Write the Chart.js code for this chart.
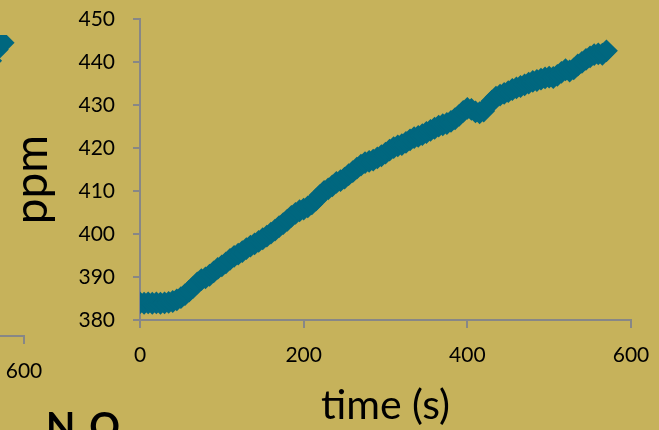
<!DOCTYPE html>
<html>
<head>
<meta charset="utf-8">
<script src="https://cdn.jsdelivr.net/npm/chart.js@4.4.1/dist/chart.umd.min.js"></script>
<style>
    html, body {margin: 0; padding: 0; background: #c6b25b; overflow: hidden;}
    #wrap {position: relative; width: 659px; height: 430px;}
    #side-chart {position: absolute; left: -476px; top: 16px;}
    #main-chart {position: absolute; left: 0; top: 0;}
    #next-title {position: absolute; left: 46px; top: 402px; font: bold 38px Lato, sans-serif; color: #000; white-space: nowrap;}
    #next-title sub {font-size: 24px; vertical-align: -14px;}
</style>
</head>
<body>
<div id="wrap">
    <canvas id="side-chart" width="540" height="430"></canvas>
    <canvas id="main-chart" width="659" height="430"></canvas>
    <div id="next-title">N<sub>2</sub>O</div>
</div>
<script>
// time (s) and concentration (ppm)
const times = [0, 5, 10, 15, 20, 25, 30, 35, 40, 45, 50, 55, 60, 65, 70, 75, 80, 85, 90, 95,
    100, 105, 110, 115, 120, 125, 130, 135, 140, 145, 150, 155, 160, 165, 170, 175, 180, 185, 190, 195,
    200, 205, 210, 215, 220, 225, 230, 235, 240, 245, 250, 255, 260, 265, 270, 275, 280, 285, 290, 295,
    300, 305, 310, 315, 320, 325, 330, 335, 340, 345, 350, 355, 360, 365, 370, 375, 380, 385, 390, 395,
    400, 405, 410, 415, 420, 425, 430, 435, 440, 445, 450, 455, 460, 465, 470, 475, 480, 485, 490, 495,
    500, 505, 510, 515, 520, 525, 530, 535, 540, 545, 550, 555, 560, 565, 570]
const ppm = [384.0, 383.9, 384.0, 383.9, 384.0, 383.9, 384.0, 384.1, 384.3, 384.7,
    385.2, 385.9, 386.7, 387.6, 388.6, 389.4, 389.8, 390.4, 391.2, 392.0,
    392.6, 393.3, 394.1, 394.8, 395.3, 395.9, 396.6, 397.2, 397.7, 398.3,
    398.9, 399.5, 400.2, 400.9, 401.7, 402.4, 403.2, 404.1, 404.8, 405.4,
    405.8, 406.3, 407.0, 407.9, 409.0, 409.9, 410.5, 411.2, 412.0, 412.4,
    413.0, 413.8, 414.5, 415.3, 416.0, 416.6, 416.9, 417.2, 417.7, 418.2,
    418.8, 419.5, 420.1, 420.5, 420.8, 421.3, 421.9, 422.4, 422.7, 423.1,
    423.6, 424.1, 424.6, 425.1, 425.4, 425.7, 426.2, 426.8, 427.6, 428.5,
    429.2, 429.0, 428.4, 428.2, 428.6, 429.8, 430.9, 431.8, 432.3, 432.7,
    433.1, 433.6, 434.0, 434.3, 434.7, 435.1, 435.5, 435.7, 436.0, 436.3,
    436.5, 436.4, 436.9, 437.6, 438.2, 437.9, 438.4, 439.3, 439.9, 440.6,
    441.2, 441.7, 441.9, 441.8, 442.6]
const xTicks = [0, 200, 400, 600]
const yTicks = [380, 390, 400, 410, 420, 430, 440, 450]

// neighbouring chart on the slide, only its right edge is in view
const sideTimes = [560, 568, 575]
const sidePpm = [444.0, 446.6, 448.2]

const markerColor = '#00677f'
const axisColor = '#878787'
const tickFont = {family: 'Lato', size: 21}

const toPoints = (xs, ys) => xs.map((x, i) => ({x: x, y: ys[i]}))

// plot edges come from layout.padding only, not from label overhang
const noOverhang = (scale) => {
    scale.paddingTop = 0
    scale.paddingBottom = 0
    scale.paddingLeft = 0
    scale.paddingRight = 0
}

const xAxis = () => ({
    type: 'linear',
    min: 0,
    max: 600,
    afterBuildTicks: (scale) => { scale.ticks = xTicks.map(v => ({value: v})) },
    afterFit: (scale) => { scale.height = 110; noOverhang(scale) },
    ticks: {color: '#000', font: tickFont, padding: 15, maxRotation: 0},
    grid: {drawOnChartArea: false, drawTicks: true, tickLength: 8, color: axisColor, lineWidth: 2},
    border: {color: axisColor, width: 2},
})

const markers = {
    pointStyle: 'rectRot',
    pointRadius: 10,
    pointBorderWidth: 2,
    backgroundColor: markerColor,
    borderColor: markerColor,
}

// rotated y title, set a little below the axis centre as on the slide
const yTitle = {
    id: 'yTitle',
    afterDraw(chart) {
        const {ctx, chartArea} = chart
        ctx.save()
        ctx.translate(chartArea.left - 93, (chartArea.top + chartArea.bottom) / 2 + 10)
        ctx.rotate(-Math.PI / 2)
        ctx.font = '46px Lato'
        ctx.fillStyle = '#000'
        ctx.textAlign = 'center'
        ctx.textBaseline = 'alphabetic'
        ctx.fillText('ppm', 0, 0)
        ctx.restore()
    }
}

new Chart(document.getElementById('side-chart'), {
    type: 'scatter',
    data: {
        datasets: [{data: toPoints(sideTimes, sidePpm), ...markers}]
    },
    options: {
        responsive: false,
        animation: false,
        layout: {autoPadding: false, padding: {top: 19, right: 40, left: 0, bottom: 0}},
        plugins: {legend: {display: false}, tooltip: {enabled: false}},
        scales: {
            x: xAxis(),
            y: {min: 380, max: 450, display: false},
        }
    }
})

new Chart(document.getElementById('main-chart'), {
    type: 'scatter',
    data: {
        datasets: [{label: 'ppm', data: toPoints(times, ppm), ...markers}]
    },
    options: {
        responsive: false,
        animation: false,
        layout: {autoPadding: false, padding: {top: 19, right: 28, left: 0, bottom: 0}},
        plugins: {legend: {display: false}, tooltip: {enabled: false}},
        scales: {
            x: {
                ...xAxis(),
                title: {display: true, text: 'time (s)', color: '#000',
                    font: {family: 'Lato', size: 41}, padding: {bottom: 0}},
            },
            y: {
                type: 'linear',
                min: 380,
                max: 450,
                afterBuildTicks: (scale) => { scale.ticks = yTicks.map(v => ({value: v})) },
                afterFit: (scale) => { scale.width = 140; noOverhang(scale) },
                ticks: {color: '#000', font: tickFont, padding: 18},
                grid: {drawOnChartArea: false, drawTicks: true, tickLength: 7, color: axisColor, lineWidth: 2},
                border: {color: axisColor, width: 2},
            }
        }
    },
    plugins: [yTitle]
})
</script>
</body>
</html>
